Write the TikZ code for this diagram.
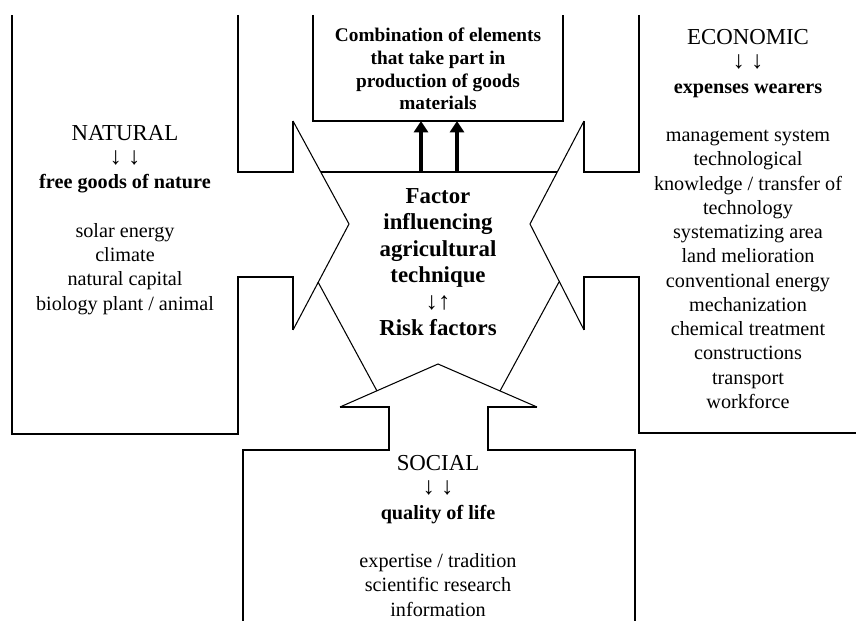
\documentclass[tikz,border=0pt]{standalone}
\usepackage{fontspec}
\setmainfont{Liberation Serif}
\usetikzlibrary{arrows.meta}

\newcommand{\hdr}[1]{{\fontsize{13}{13.8}\selectfont #1}}
\newcommand{\dnarrows}{{\fontsize{14}{13.8}\selectfont ↓ ↓}}

\begin{document}
\begin{tikzpicture}[x=0.02cm,y=-0.02cm,
    outline/.style={line width=1pt},
    headline/.style={line width=0.6pt},
    push/.style={line width=2pt,-{Triangle[length=6.5pt,width=8pt]}},
    txt/.style={align=center,font=\fontsize{11.5}{13.8}\selectfont},
    ]
\useasboundingbox (0,0) rectangle (856,621);

% natural arrow
\draw[outline] (238,15) -- (238,172) -- (293,172) -- (293,121);
\draw[outline] (293,330) -- (293,277) -- (238,277) -- (238,434) -- (12,434) -- (12,15);
\draw[headline] (293,121) -- (349,224) -- (293,330);

% economic arrow
\draw[outline] (639,15) -- (639,172) -- (584,172) -- (584,121);
\draw[outline] (584,330) -- (584,277) -- (639,277) -- (639,433) -- (856,433);
\draw[headline] (584,121) -- (530,224) -- (584,330);

% social arrow
\draw[outline] (340,407) -- (389,407) -- (389,450) -- (243,450) -- (243,621);
\draw[outline] (537,407) -- (488,407) -- (488,450) -- (635,450) -- (635,621);
\draw[headline] (340,407) -- (438,364) -- (537,407);

% top box
\draw[outline] (313,15) -- (313,121) -- (563,121) -- (563,15);

% centre
\draw[headline] (321,172) -- (557,172);
\draw[headline] (318,282) -- (377,391);
\draw[headline] (559,282) -- (500,391);

\node[txt,font=\bfseries\fontsize{11}{12.9}\selectfont] (combination) at (438,69)
    {Combination of elements\\ that take part in\\ production of goods\\ materials};
\node[txt,font=\bfseries\fontsize{13}{15.1}\selectfont] (factor) at (438,262)
    {Factor\\ influencing\\ agricultural\\ technique\\ {\mdseries\fontsize{14}{15.1}\selectfont ↓↑}\\ Risk factors};
\node[txt] (natural) at (125,220)
    {\hdr{NATURAL}\\ \dnarrows\\ \textbf{free goods of nature}\\[\baselineskip]
     solar energy\\ climate\\ natural capital\\ biology plant / animal};
\node[txt] (economic) at (748,219)
    {\hdr{ECONOMIC}\\ \dnarrows\\ \textbf{expenses wearers}\\[\baselineskip]
     management system\\ technological\\ knowledge / transfer of\\ technology\\
     systematizing area\\ land melioration\\ conventional energy\\ mechanization\\
     chemical treatment\\ constructions\\ transport\\ workforce};
\node[txt] (social) at (438,536)
    {\hdr{SOCIAL}\\ \dnarrows\\ \textbf{quality of life}\\[\baselineskip]
     expertise / tradition\\ scientific research\\ information};

\coordinate (f1) at (421,172);
\coordinate (f2) at (457,172);
\coordinate (c1) at (421,121);
\coordinate (c2) at (457,121);
\draw[push] (f1) -- (c1);
\draw[push] (f2) -- (c2);
\end{tikzpicture}
\end{document}
